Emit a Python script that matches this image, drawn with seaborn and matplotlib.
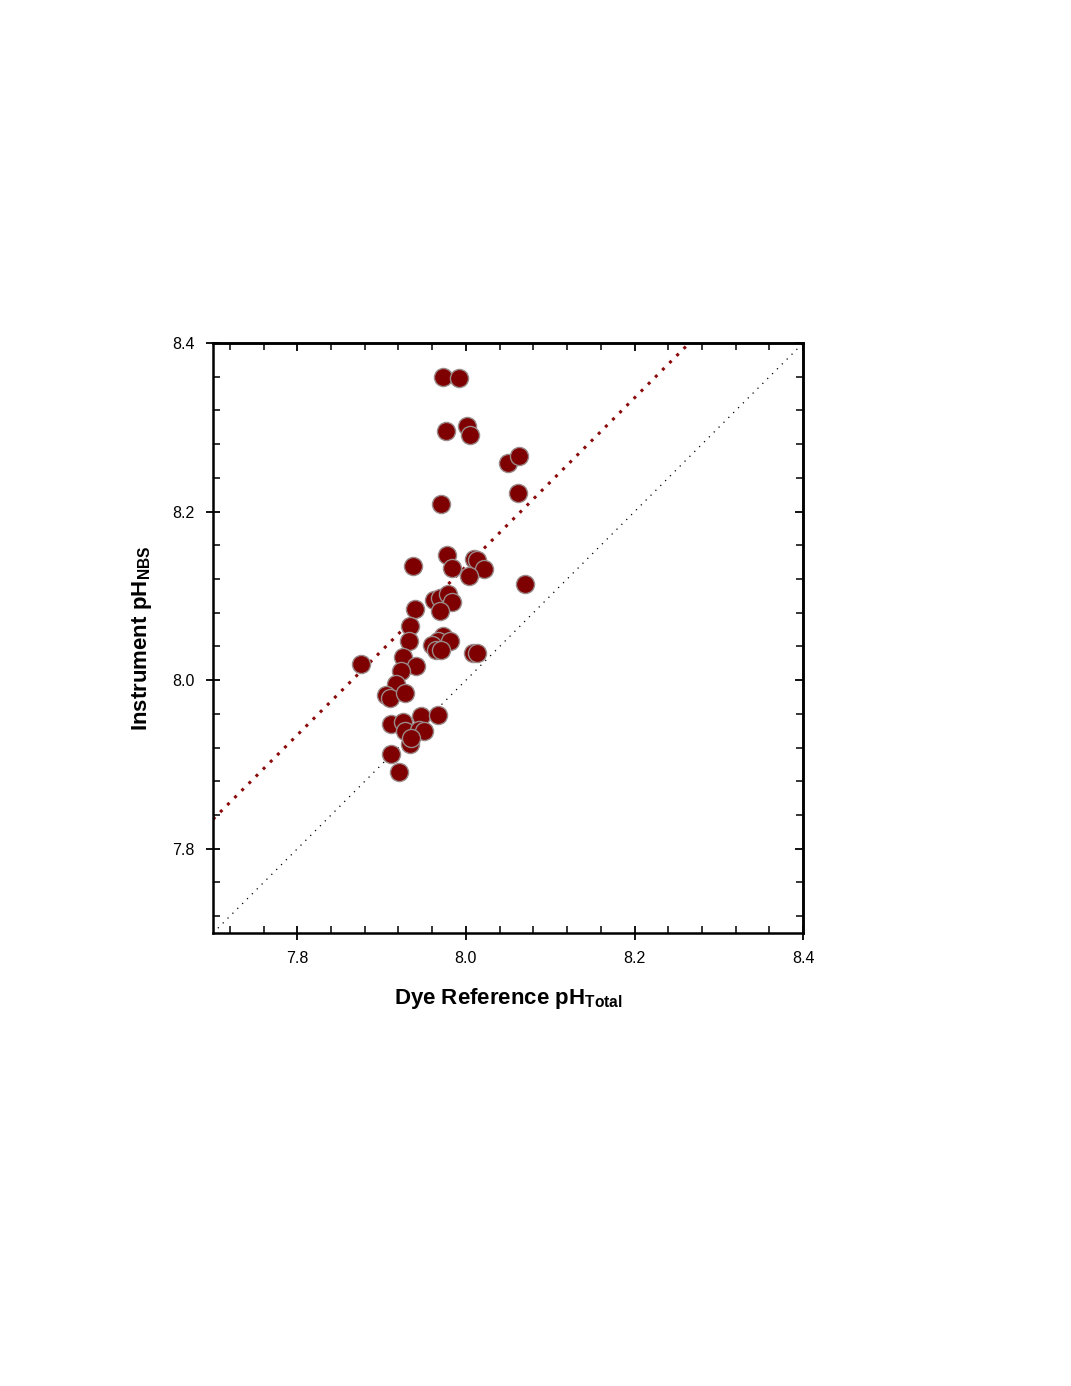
import numpy as np
import pandas as pd
import matplotlib
matplotlib.use("Agg")
import matplotlib.pyplot as plt
import seaborn as sns
from matplotlib.ticker import MultipleLocator

# =========================
# DATA
# =========================
dye_ph = [7.973, 7.992, 7.976, 8.001, 8.005, 8.050, 8.063, 8.062, 7.970, 7.978,
          7.937, 7.983, 8.010, 8.013, 8.021, 8.004, 8.070, 7.962, 7.969, 7.979,
          7.983, 7.969, 7.940, 7.934, 7.932, 7.973, 7.967, 7.981, 7.960, 7.965,
          7.971, 8.008, 8.013, 7.876, 7.925, 7.941, 7.923, 7.917, 7.905, 7.910,
          7.928, 7.911, 7.925, 7.947, 7.967, 7.928, 7.944, 7.950, 7.934, 7.935,
          7.911, 7.921]
instrument_ph = [8.360, 8.358, 8.296, 8.302, 8.291, 8.258, 8.266, 8.222, 8.209, 8.149,
                 8.135, 8.133, 8.144, 8.143, 8.132, 8.124, 8.114, 8.095, 8.098, 8.102,
                 8.093, 8.082, 8.084, 8.064, 8.046, 8.052, 8.046, 8.046, 8.042, 8.036,
                 8.036, 8.032, 8.032, 8.019, 8.027, 8.017, 8.011, 7.995, 7.983, 7.979,
                 7.985, 7.948, 7.950, 7.957, 7.959, 7.940, 7.941, 7.940, 7.924, 7.931,
                 7.912, 7.891]
offset = 0.135          # dotted red offset line
line_x = [7.7, 8.4]
tick_vals = [7.8, 8.0, 8.2, 8.4]
tick_labels = ["7.8", "8.0", "8.2", "8.4"]

df = pd.DataFrame({"dye": dye_ph, "inst": instrument_ph})

# =========================
# STYLE
# =========================
sns.set_style("ticks")
plt.rcParams["font.family"] = ["Liberation Sans", "DejaVu Sans"]
plt.rcParams["mathtext.fontset"] = "custom"
plt.rcParams["mathtext.rm"] = "Liberation Sans"
plt.rcParams["mathtext.bf"] = "Liberation Sans:bold"
plt.rcParams["text.color"] = "black"
plt.rcParams["axes.labelcolor"] = "black"
plt.rcParams["xtick.color"] = "black"
plt.rcParams["ytick.color"] = "black"
plt.rcParams["axes.edgecolor"] = "black"

fig = plt.figure(figsize=(10.71, 13.86), dpi=100)
ax = fig.add_axes([0.1989, 0.3268, 0.551, 0.4257])

# reference lines
ax.plot(line_x, line_x, color="black", lw=0.9, linestyle=(0, (1, 4.5)))
ax.plot(line_x, [v + offset for v in line_x], color="#8b0a0a", lw=2.2,
        linestyle=(0, (1, 2.3)))

sns.scatterplot(data=df, x="dye", y="inst", ax=ax, s=170, color="#7f0000",
                edgecolor="#9a8a8a", linewidth=1.0, zorder=3, legend=False)

ax.set_xlim(7.7, 8.4)
ax.set_ylim(7.7, 8.4)
ax.set_xticks(tick_vals)
ax.set_yticks(tick_vals)
ax.set_xticklabels(tick_labels)
ax.set_yticklabels(tick_labels)
ax.xaxis.set_minor_locator(MultipleLocator(0.04))
ax.yaxis.set_minor_locator(MultipleLocator(0.04))

ax.tick_params(which="major", direction="inout", length=10, width=1.3,
               labelsize=11.5, pad=8, colors="black")
ax.tick_params(which="minor", direction="in", length=5, width=1.1)

# top / right ticks point inward only
top = ax.secondary_xaxis("top")
right = ax.secondary_yaxis("right")
for sec in (top, right):
    sec.set_ticks(tick_vals)
    sec.tick_params(which="major", direction="in", length=6, width=1.3,
                    labelsize=0, labelcolor="none")
    sec.tick_params(which="minor", direction="in", length=5, width=1.1)
    sec.spines[:].set_linewidth(1.8)
top.xaxis.set_minor_locator(MultipleLocator(0.04))
right.yaxis.set_minor_locator(MultipleLocator(0.04))

for sp in ax.spines.values():
    sp.set_linewidth(1.8)
    sp.set_visible(True)
    sp.set_color("black")

ax.set_xlabel(r"Dye Reference pH$_{\mathbf{Total}}$", fontsize=16,
              fontweight="bold", labelpad=14)
ax.set_ylabel(r"Instrument pH$_{\mathbf{NBS}}$", fontsize=16,
              fontweight="bold", labelpad=13)

plt.savefig("out.png", dpi=100, facecolor="white")
plt.close()
